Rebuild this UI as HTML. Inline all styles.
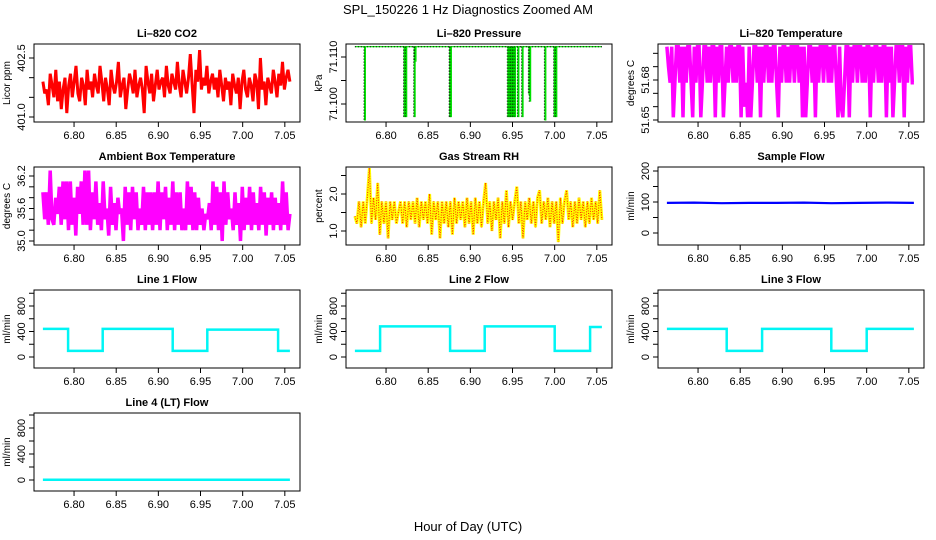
<!DOCTYPE html>
<html><head><meta charset="utf-8"><style>
html,body{margin:0;padding:0;background:#fff;}
svg{display:block;font-family:"Liberation Sans",Arial,sans-serif;}
</style></head><body>
<svg id="chart" width="936" height="540" viewBox="0 0 936 540">
<text x="468" y="14" text-anchor="middle" font-size="13">SPL_150226  1 Hz Diagnostics Zoomed AM</text>
<text x="468" y="531" text-anchor="middle" font-size="13">Hour of Day (UTC)</text>
</svg>
<script>
const xTicks=[6.80,6.85,6.90,6.95,7.00,7.05];
const tStart=6.763, tEnd=7.056;
const co2Values=[401.9,401.6,401.7,401.3,402.1,401.8,401.5,402.2,401.4,401.9,401.2,401.7,402.0,401.1,401.8,402.1,401.5,401.9,402.3,401.6,401.4,402.0,401.8,401.3,402.2,401.7,401.9,401.5,402.1,401.8,401.6,402.3,401.9,401.4,402.0,401.7,401.3,402.2,401.8,401.6,401.9,402.4,401.5,401.8,402.0,401.2,401.7,402.1,401.9,401.6,402.2,401.5,401.8,402.0,401.7,401.1,402.3,401.9,401.6,402.1,401.4,401.8,402.2,401.7,401.9,402.0,401.5,402.3,401.8,401.6,402.1,401.9,401.7,402.4,401.8,401.5,402.2,401.9,401.6,402.0,402.6,401.8,401.1,402.2,401.9,402.7,401.7,402.0,401.8,402.3,401.6,401.9,402.1,401.7,402.0,401.5,402.2,401.8,401.4,402.0,401.7,401.9,401.3,402.1,401.8,401.6,402.0,401.2,401.9,402.2,401.7,401.5,402.0,401.8,401.4,402.1,401.9,401.2,402.5,401.7,401.9,401.3,402.0,401.8,401.6,402.2,401.9,401.5,402.1,401.8,402.4,401.7,402.0,402.2,401.9];
const pressBase=71.1122;
const pressSpikeTimes=[6.775,6.822,6.824,6.834,6.835,6.876,6.877,6.945,6.947,6.949,6.951,6.953,6.957,6.962,6.970,6.971,6.989,7.000,7.002];
const pressSpikeMins=[71.0965,71.0972,71.0972,71.0972,71.1090,71.0972,71.0972,71.0972,71.0972,71.0972,71.0972,71.0972,71.0972,71.0972,71.1020,71.1005,71.0965,71.0972,71.0972];
const liTempValues=[51.705,51.690,51.678,51.705,51.652,51.678,51.705,51.705,51.678,51.705,51.652,51.705,51.678,51.705,51.705,51.678,51.652,51.705,51.678,51.705,51.705,51.652,51.678,51.705,51.705,51.678,51.705,51.678,51.705,51.705,51.652,51.705,51.678,51.705,51.705,51.652,51.678,51.705,51.678,51.705,51.705,51.678,51.705,51.678,51.705,51.705,51.652,51.705,51.660,51.678,51.652,51.705,51.652,51.678,51.705,51.705,51.678,51.705,51.652,51.705,51.678,51.705,51.705,51.678,51.705,51.678,51.705,51.705,51.678,51.652,51.705,51.678,51.705,51.705,51.678,51.705,51.678,51.705,51.705,51.678,51.705,51.705,51.678,51.705,51.652,51.705,51.652,51.678,51.705,51.705,51.678,51.705,51.652,51.705,51.678,51.705,51.705,51.678,51.705,51.705,51.678,51.705,51.678,51.705,51.705,51.678,51.652,51.705,51.660,51.652,51.678,51.705,51.705,51.652,51.705,51.678,51.705,51.705,51.678,51.705,51.705,51.678,51.705,51.678,51.705,51.705,51.652,51.705,51.678,51.705,51.705,51.678,51.705,51.678,51.705,51.705,51.652,51.705,51.678,51.705,51.652,51.678,51.705,51.705,51.678,51.705,51.705,51.652,51.705,51.678,51.705,51.705,51.678,51.678];
const ambientValues=[35.9,35.4,35.9,35.3,36.3,35.4,35.3,35.8,35.5,36.0,35.3,36.1,35.4,36.1,35.2,36.1,35.3,35.8,35.1,36.0,35.5,36.1,35.3,36.3,35.3,36.3,35.2,35.9,35.4,36.1,35.3,35.7,35.2,36.1,35.4,35.6,35.1,36.0,35.3,35.7,35.2,35.8,35.5,35.6,35.0,36.0,35.3,35.9,35.2,36.0,35.4,35.9,35.2,35.6,35.3,36.0,35.2,35.9,35.3,35.9,35.2,35.9,35.3,36.1,35.2,35.9,35.4,36.0,35.2,35.8,35.3,36.1,35.2,35.9,35.3,35.9,35.2,35.6,35.2,36.1,35.3,36.0,35.2,35.9,35.2,35.8,35.3,35.6,35.2,35.5,35.4,35.7,35.2,36.1,35.3,36.0,35.2,35.9,35.0,36.1,35.3,35.9,35.4,35.6,35.2,35.9,35.3,35.7,35.0,36.0,35.2,35.8,35.3,36.0,35.2,35.9,35.3,35.7,35.2,36.0,35.3,35.9,35.1,35.8,35.3,35.9,35.2,35.8,35.3,35.7,35.2,36.1,35.3,35.9,35.2,35.5];
const rhValues=[1.4,1.2,1.8,1.1,1.8,1.2,1.9,2.7,1.2,1.9,1.3,2.3,0.9,1.8,1.2,1.8,0.8,1.8,1.3,1.8,1.2,1.5,1.8,1.2,1.8,1.1,1.8,1.3,1.8,1.2,1.9,1.1,1.8,1.3,1.8,1.2,2.0,0.9,1.8,1.3,1.8,0.8,1.8,1.2,1.8,1.1,1.8,0.9,1.9,1.2,1.8,1.3,1.8,1.1,1.9,1.2,1.8,0.9,1.9,1.2,1.8,1.1,1.8,2.3,1.2,1.8,1.0,1.8,1.3,1.9,0.8,1.8,1.2,2.1,1.1,1.8,1.3,1.8,2.2,1.2,1.8,0.8,1.8,1.3,1.9,1.2,1.8,1.1,1.9,2.1,1.2,1.8,1.3,1.9,1.1,1.8,1.2,1.8,0.7,1.9,1.2,1.8,2.1,1.3,1.8,1.1,1.8,1.2,1.9,1.3,1.8,1.1,1.8,1.2,1.9,1.3,1.8,1.2,2.1,1.3];
const sampleFlowValues=[97,98,96,97,97,98,96,97,98,97];
const line1Steps=[[6.763,440],[6.793,95],[6.834,440],[6.917,95],[6.958,430],[7.042,95],[7.056,95]];
const line2Steps=[[6.763,95],[6.793,480],[6.876,95],[6.917,480],[7.000,95],[7.042,470],[7.056,470]];
const line3Steps=[[6.763,440],[6.834,95],[6.876,440],[6.958,95],[7.000,440],[7.056,440]];
const line4Steps=[[6.763,5],[7.056,5]];

const NS='http://www.w3.org/2000/svg';
const svg=document.getElementById('chart');
const colX=[34,346,658], rowY=[44,167,290,413], PW=266, PH=78;
const XMIN=6.7525, XMAX=7.068;
function mk(tag,attrs,parent){const e=document.createElementNS(NS,tag);for(const k in attrs)e.setAttribute(k,attrs[k]);(parent||svg).appendChild(e);return e;}
function panel(col,row,title,ylab,yref,yTicks,yLabels,name){
  const L=colX[col],T=rowY[row];
  const g=mk('g',{});
  
  
  const sx=v=>L+(v-XMIN)/(XMAX-XMIN)*PW;
  const k=(yref[3]-yref[1])/(yref[2]-yref[0]);
  const sy=v=>T+yref[1]+(v-yref[0])*k;
  const fr=mk('rect',{x:L,y:T,width:PW,height:PH,fill:'none',stroke:'#000','stroke-width':1},g);
  
  
  const tt=mk('text',{x:L+PW/2,y:T-7,'text-anchor':'middle','font-size':11,'font-weight':'bold'},g);
  tt.textContent=title;
  
  
  xTicks.forEach(v=>{const x=sx(v);mk('line',{x1:x,y1:T+PH,x2:x,y2:T+PH+5,stroke:'#000'},g);
    const t=mk('text',{x:x,y:T+PH+17,'text-anchor':'middle','font-size':11},g);t.textContent=v.toFixed(2);
    
    });
  yTicks.forEach(v=>{const y=sy(v);mk('line',{x1:L-5,y1:y,x2:L,y2:y,stroke:'#000'},g);});
  yLabels.forEach(s=>{const y=sy(parseFloat(s));const t=mk('text',{x:L-9,y:y,'text-anchor':'middle','font-size':11,transform:`rotate(-90 ${L-9} ${y})`},g);t.textContent=s;
    
    });
  const yl=mk('text',{x:L-24,y:T+PH/2,'text-anchor':'middle','font-size':10,transform:`rotate(-90 ${L-24} ${T+PH/2})`},g);
  yl.textContent=ylab;
  
  
  return {g,sx,sy};
}
function series(p,vals,color,w,name,dash){
  const n=vals.length;
  const pts=vals.map((v,i)=>p.sx(tStart+(tEnd-tStart)*i/(n-1)).toFixed(1)+','+p.sy(v).toFixed(1)).join(' ');
  const pl=mk('polyline',{points:pts,fill:'none',stroke:color,'stroke-width':w,'stroke-linejoin':'miter','stroke-miterlimit':2},p.g);
  if(dash)pl.setAttribute('stroke-dasharray',dash);
  
  
}
function steps(p,st,name){
  let pts=[];
  for(let i=0;i<st.length-1;i++){pts.push([st[i][0],st[i][1]]);pts.push([st[i+1][0],st[i][1]]);}
  const pl=mk('polyline',{points:pts.map(a=>p.sx(a[0]).toFixed(1)+','+p.sy(a[1]).toFixed(1)).join(' '),fill:'none',stroke:'#00f5f5','stroke-width':2.5},p.g);
  
  
}
const range=(a,b,s)=>{const r=[];for(let v=a;v<=b+1e-9;v+=s)r.push(+v.toFixed(4));return r;};

let p=panel(0,0,'Li\u2013820 CO2','Licor ppm',[401.0,73,402.5,14],range(401,402.5,0.5),['401.0','402.5'],'co2');
series(p,co2Values,'#ff0000',3,'co2-line');

p=panel(1,0,'Li\u2013820 Pressure','kPa',[71.100,60,71.110,13],[71.100,71.105,71.110],['71.100','71.110'],'pressure');
series(p,[pressBase,pressBase],'#00e000',1.2,'pressure-baseline');
series(p,[pressBase,pressBase],'#000',1,'pressure-baseline-points','1,2');
pressSpikeTimes.forEach((t,i)=>{const x=p.sx(t);
  const l=mk('line',{x1:x,y1:p.sy(pressBase),x2:x,y2:p.sy(pressSpikeMins[i]),stroke:'#00e000','stroke-width':2},p.g);
  
  
  const d=mk('line',{x1:x-1,y1:p.sy(pressBase),x2:x-1,y2:p.sy(pressSpikeMins[i]),stroke:'#000','stroke-width':1,'stroke-dasharray':'1,2'},p.g);
  
  });

p=panel(2,0,'Li\u2013820 Temperature','degrees C',[51.65,76,51.68,36],range(51.65,51.70,0.01),['51.65','51.68'],'li-temperature');
series(p,liTempValues,'#ff00ff',3.5,'li-temperature-line');

p=panel(0,1,'Ambient Box Temperature','degrees C',[35.0,74,36.2,9],range(35.0,36.2,0.2),['35.0','35.6','36.2'],'ambient-temperature');
series(p,ambientValues,'#ff00ff',3.5,'ambient-temperature-line');

p=panel(1,1,'Gas Stream RH','percent',[1.0,64,2.0,27],[1.0,1.5,2.0,2.5],['1.0','2.0'],'rh');
series(p,rhValues,'#ffff00',3,'rh-line');
series(p,rhValues,'#ff2000',1,'rh-points','1,1.5');

p=panel(2,1,'Sample Flow','ml/min',[0,66,200,4],[0,50,100,150,200],['0','100','200'],'sample-flow');
series(p,sampleFlowValues,'#0000ff',2.2,'sample-flow-line');

p=panel(0,2,'Line 1 Flow','ml/min',[0,67,800,16],[0,200,400,600,800,1000],['0','400','800'],'line1-flow');
steps(p,line1Steps,'line1-flow-line');
p=panel(1,2,'Line 2 Flow','ml/min',[0,67,800,16],[0,200,400,600,800,1000],['0','400','800'],'line2-flow');
steps(p,line2Steps,'line2-flow-line');
p=panel(2,2,'Line 3 Flow','ml/min',[0,67,800,16],[0,200,400,600,800,1000],['0','400','800'],'line3-flow');
steps(p,line3Steps,'line3-flow-line');
p=panel(0,3,'Line 4 (LT) Flow','ml/min',[0,67,800,15],[0,200,400,600,800,1000],['0','400','800'],'line4-flow');
steps(p,line4Steps,'line4-flow-line');
</script>
</body></html>
